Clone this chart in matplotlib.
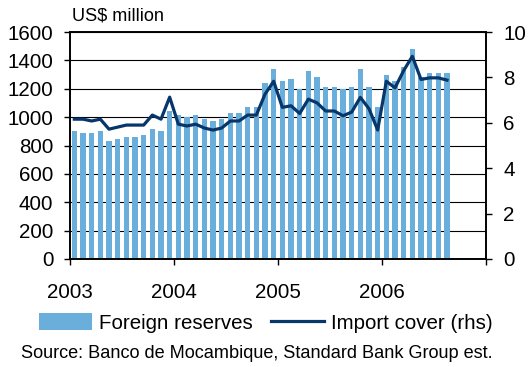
import matplotlib.pyplot as plt

plt.rcParams['font.family'] = ['Liberation Sans', 'DejaVu Sans']

# Monthly figures, Jan 2003 - Aug 2006
reserves = [902, 888, 888, 902, 832, 846, 860, 860, 874, 916, 902, 1043,
            1015, 1001, 1015, 987, 973, 987, 1029, 1029, 1071, 1071, 1239, 1338,
            1253, 1268, 1195, 1324, 1282, 1211, 1211, 1195, 1211, 1338, 1211, 1071,
            1296, 1253, 1352, 1478, 1282, 1310, 1310, 1310]
import_cover = [6.16, 6.16, 6.08, 6.16, 5.72, 5.81, 5.90, 5.90, 5.90, 6.34, 6.16, 7.13,
                5.94, 5.86, 5.94, 5.77, 5.68, 5.77, 6.08, 6.08, 6.34, 6.34, 7.26, 7.83,
                6.68, 6.75, 6.41, 7.04, 6.88, 6.52, 6.52, 6.31, 6.47, 7.12, 6.62, 5.68,
                7.83, 7.54, 8.30, 8.93, 7.91, 7.98, 7.98, 7.88]
years = ['2003', '2004', '2005', '2006']

BAR = '#6aaedb'
LINE = '#06366a'

fig = plt.figure(figsize=(5.28, 3.67), dpi=100)
ax = fig.add_axes([70/528, 108/367, 416/528, 227/367])
ax2 = ax.twinx()

x = [i + 0.5 for i in range(len(reserves))]
bars = ax.bar(x, reserves, width=0.6, color=BAR, zorder=2, label='Foreign reserves')
line, = ax2.plot(x, import_cover, color=LINE, lw=2.3, zorder=3, label='Import cover (rhs)')

ax.set_xlim(0, 48)
ax.set_ylim(0, 1600)
ax.set_yticks(range(0, 1601, 200))
ax2.set_ylim(0, 10)
ax2.set_yticks(range(0, 11, 2))
ax.set_xticks([0, 12, 24, 36, 48])
ax.set_xticklabels(years + [''])

ax.grid(axis='y', color='black', lw=0.8, zorder=1)
ax.set_axisbelow(True)

for a in (ax, ax2):
    for s in a.spines.values():
        s.set_linewidth(1.2)
        s.set_color('black')
    a.tick_params(labelsize=14.8, length=4.5, width=1, direction='out', colors='black')
ax.tick_params(axis='x', pad=13)
ax.tick_params(axis='y', pad=7.5)
ax2.tick_params(axis='y', pad=8)

fig.text(72/528, 1 - 16/367, 'US$ million', fontsize=13.1, va='center', ha='left')

fig.legend([bars, line], ['Foreign reserves', 'Import cover (rhs)'],
           loc='center', bbox_to_anchor=(0.503, 1 - 323/367), ncol=2, frameon=False,
           fontsize=14.8, handlelength=2.6, handleheight=0.9, handletextpad=0.3,
           columnspacing=0.9, borderpad=0)

fig.text(0.487, 1 - 353/367, 'Source: Banco de Mocambique, Standard Bank Group est.',
         fontsize=13.1, ha='center', va='center')

fig.savefig('out.png', dpi=100)
